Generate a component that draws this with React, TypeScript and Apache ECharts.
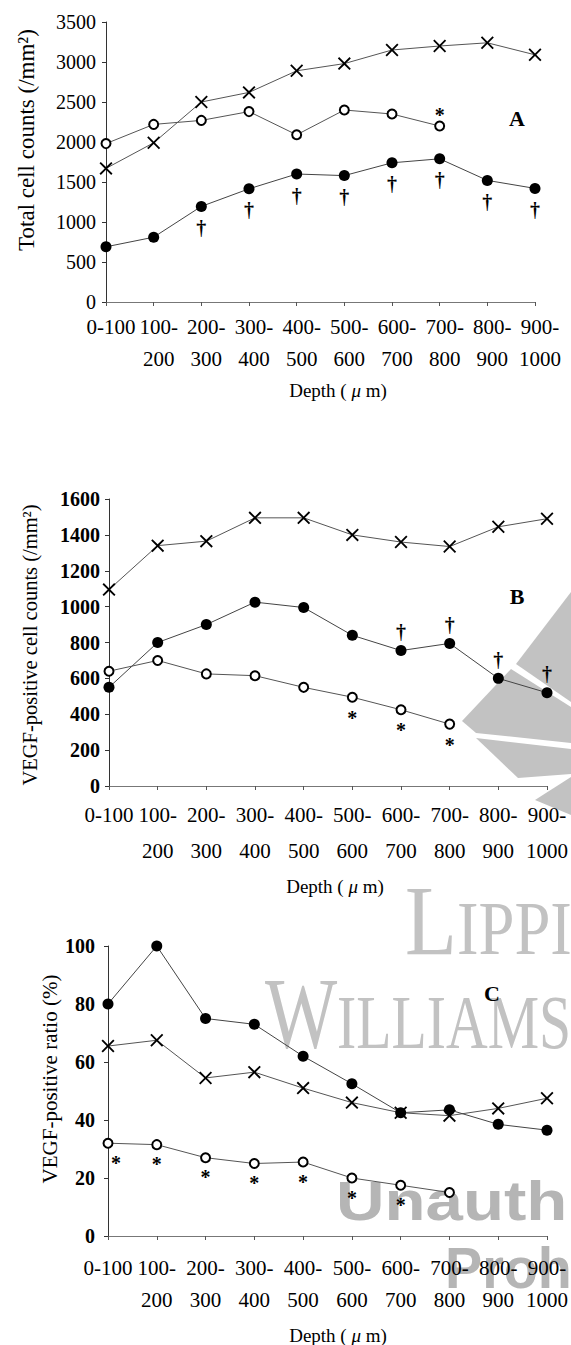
import React, { useEffect, useRef } from "react";
import * as echarts from "echarts";

const categories = ["0-100", "100-\n200", "200-\n300", "300-\n400", "400-\n500", "500-\n600", "600-\n700", "700-\n800", "800-\n900", "900-\n1000"];

// Panel A: total cell counts (/mm2)
const aCross = [1670, 1990, 2500, 2620, 2890, 2980, 3150, 3200, 3240, 3090];
const aOpen = [1980, 2220, 2270, 2380, 2090, 2400, 2350, 2200];
const aFilled = [690, 810, 1195, 1415, 1600, 1580, 1740, 1790, 1520, 1420];
const aFilledMarks = ["", "", "†", "†", "†", "†", "†", "†", "†", "†"];
const aOpenMarks = ["", "", "", "", "", "", "", "*"];

// Panel B: VEGF-positive cell counts (/mm2)
const bCross = [1095, 1340, 1365, 1495, 1495, 1400, 1360, 1335, 1445, 1490];
const bFilled = [550, 800, 900, 1025, 995, 840, 755, 795, 600, 520];
const bOpen = [640, 700, 625, 615, 550, 495, 425, 345];
const bFilledMarks = ["", "", "", "", "", "", "†", "†", "†", "†"];
const bOpenMarks = ["", "", "", "", "", "*", "*", "*"];

// Panel C: VEGF-positive ratio (%)
const cFilled = [80, 100, 75, 73, 62, 52.5, 42.5, 43.5, 38.5, 36.5];
const cCross = [65.5, 67.5, 54.5, 56.5, 51, 46, 42.5, 41.5, 44, 47.5];
const cOpen = [32, 31.5, 27, 25, 25.5, 20, 17.5, 15];
const cOpenMarks = ["*", "*", "*", "*", "*", "*", "*", ""];

const SERIF = '"Liberation Serif", "Times New Roman", serif';
const SANS = '"Liberation Sans", Arial, sans-serif';
const CROSS = "path://M2,0L10,8L18,0L20,2L12,10L20,18L18,20L10,12L2,20L0,18L8,10L0,2Z";

function marked(values: number[], marks: string[], pos: string, dist: number, firstOffset = 0) {
  return values.map((v, i) =>
    marks[i]
      ? {
          value: v,
          label: {
            show: true,
            formatter: marks[i],
            position: pos,
            distance: dist,
            offset: i === 0 && firstOffset ? [firstOffset, 0] : [0, 0],
            fontFamily: SERIF,
            fontWeight: "bold",
            fontSize: 20,
            color: "#000",
          },
        }
      : v
  );
}

function crossSeries(idx: number, data: any[]) {
  return {
    type: "line", xAxisIndex: idx, yAxisIndex: idx, data,
    symbol: CROSS, symbolSize: 13, showAllSymbol: true,
    lineStyle: { color: "#555", width: 1 },
    itemStyle: { color: "#000" },
    z: 3,
  };
}
function filledSeries(idx: number, data: any[]) {
  return {
    type: "line", xAxisIndex: idx, yAxisIndex: idx, data,
    symbol: "circle", symbolSize: 11, showAllSymbol: true,
    lineStyle: { color: "#444", width: 1 },
    itemStyle: { color: "#000" },
    z: 4,
  };
}
function openSeries(idx: number, data: any[]) {
  return {
    type: "line", xAxisIndex: idx, yAxisIndex: idx, data,
    symbol: "circle", symbolSize: 9, showAllSymbol: true,
    lineStyle: { color: "#555", width: 1 },
    itemStyle: { color: "#fff", borderColor: "#000", borderWidth: 2 },
    z: 5,
  };
}

function xAxis(idx: number, margin: number, lineHeight: number, padLeft: number) {
  return {
    type: "category", gridIndex: idx, data: categories, boundaryGap: false,
    axisLine: { lineStyle: { color: "#777", width: 1 } },
    axisTick: { show: true, length: 4, inside: false, lineStyle: { color: "#555" }, alignWithLabel: true },
    axisLabel: {
      interval: 0, margin, lineHeight, fontFamily: SERIF, fontSize: 21, color: "#000",
      padding: [0, 0, 0, padLeft],
    },
    splitLine: { show: false },
  };
}
function yAxis(idx: number, max: number, interval: number, margin: number, bold: boolean) {
  return {
    type: "value", gridIndex: idx, min: 0, max, interval,
    axisLine: { show: true, lineStyle: { color: "#333", width: 1 } },
    axisTick: { show: true, length: 4, lineStyle: { color: "#333" } },
    axisLabel: {
      margin, fontFamily: SERIF, fontSize: 20, color: "#000", fontWeight: bold ? "bold" : "normal",
      formatter: (v: number) => String(v),
    },
    splitLine: { show: false },
  };
}

function txt(text: string, x: number, y: number, font: string, opts: any = {}) {
  return {
    type: "text", x, y, rotation: opts.rotation || 0, z: opts.z ?? 10,
    scaleX: opts.scaleX ?? 1,
    style: {
      text, font, fill: opts.fill || "#000",
      textAlign: opts.align || "center", textVerticalAlign: opts.valign || "middle",
      align: opts.align || "center", verticalAlign: opts.valign || "middle",
    },
  };
}

function depthTitle(x: number, y: number) {
  return {
    type: "text", x, y, z: 10,
    style: {
      text: "{n|Depth ( }{i|μ}{n| m)}",
      fill: "#000",
      textAlign: "center", textVerticalAlign: "middle", align: "center", verticalAlign: "middle",
      rich: {
        n: { fontFamily: SERIF, fontSize: 19, fill: "#000", color: "#000" },
        i: { fontFamily: SERIF, fontSize: 19, fontStyle: "italic", fill: "#000", color: "#000" },
      },
    },
  };
}

export default function App() {
  const ref = useRef<HTMLDivElement>(null);
  useEffect(() => {
    if (!ref.current) return;
    const chart = echarts.init(ref.current, undefined, { renderer: "svg" });
    const wm = "#c2c2c2";
    const wm2 = "#b5b5b5";
    const option: any = {
      animation: false,
      backgroundColor: "#fff",
      grid: [
        { left: 106, top: 22, width: 429, height: 280 },
        { left: 109, top: 499, width: 440, height: 287 },
        { left: 108, top: 946, width: 444, height: 290 },
      ],
      xAxis: [xAxis(0, 9, 32, 10), xAxis(1, 11, 36, 0), xAxis(2, 16, 32, 0)],
      yAxis: [yAxis(0, 3500, 500, 10, false), yAxis(1, 1600, 200, 9, true), yAxis(2, 100, 20, 13, true)],
      series: [
        crossSeries(0, aCross),
        openSeries(0, marked(aOpen, aOpenMarks, "top", -4)),
        filledSeries(0, marked(aFilled, aFilledMarks, "bottom", 6)),
        crossSeries(1, bCross),
        filledSeries(1, marked(bFilled, bFilledMarks, "top", 3)),
        openSeries(1, marked(bOpen, bOpenMarks, "bottom", 5)),
        filledSeries(2, cFilled),
        crossSeries(2, cCross),
        openSeries(2, marked(cOpen, cOpenMarks, "bottom", 4, 8)),
      ],
      graphic: [
        // watermark (publisher logo and text)
        { type: "polygon", z: -10, shape: { points: [[516, 664], [571, 592], [571, 702]] }, style: { fill: wm } },
        { type: "polygon", z: -10, shape: { points: [[462, 721], [511, 669], [571, 707], [571, 743], [476, 733]] }, style: { fill: wm } },
        { type: "polygon", z: -10, shape: { points: [[476, 738], [571, 749], [571, 774], [518, 778]] }, style: { fill: wm } },
        { type: "polygon", z: -10, shape: { points: [[535, 800], [571, 777], [571, 815]] }, style: { fill: wm } },
        txt("L", 405, 970, `100px ${SERIF}`, { align: "left", valign: "bottom", fill: wm, z: -10, scaleX: 0.85 }),
        txt("IPPI", 457, 966, `76px ${SERIF}`, { align: "left", valign: "bottom", fill: wm, z: -10, scaleX: 0.85 }),
        txt("W", 265, 1065, `102px ${SERIF}`, { align: "left", valign: "bottom", fill: wm, z: -10, scaleX: 0.75 }),
        txt("ILLIAMS", 337, 1061, `76px ${SERIF}`, { align: "left", valign: "bottom", fill: wm, z: -10, scaleX: 0.76 }),
        txt("Unauth", 336, 1201, `bold 56px ${SANS}`, { align: "left", fill: wm2, z: -10, scaleX: 1.2 }),
        txt("Proh", 445, 1268, `bold 58px ${SANS}`, { align: "left", fill: wm2, z: -10, scaleX: 0.96 }),
        // panel letters
        txt("A", 517, 118, `bold 22px ${SERIF}`),
        txt("B", 517, 596, `bold 22px ${SERIF}`),
        txt("C", 492, 993, `bold 22px ${SERIF}`),
        // axis titles
        txt("Total cell counts (/mm²)", 26, 140, `23px ${SERIF}`, { rotation: Math.PI / 2 }),
        txt("VEGF-positive cell counts (/mm²)", 30, 645, `20.5px ${SERIF}`, { rotation: Math.PI / 2 }),
        txt("VEGF-positive ratio (%)", 50, 1079, `21px ${SERIF}`, { rotation: Math.PI / 2 }),
        depthTitle(338, 390),
        depthTitle(335, 886),
        depthTitle(338, 1335),
      ],
    };
    chart.setOption(option);
    return () => chart.dispose();
  }, []);
  return (
    <div
      ref={ref}
      style={{ position: "absolute", left: 0, top: 0, width: 571, height: 1345, background: "#fff" }}
    />
  );
}
